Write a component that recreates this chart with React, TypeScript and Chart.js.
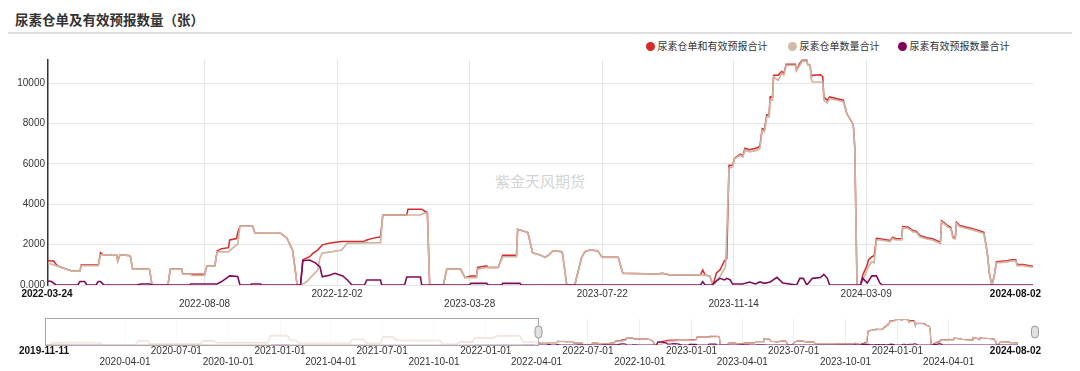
import React, { useEffect, useRef } from "react";
import { Chart, registerables } from "chart.js";

Chart.register(...registerables);

// ---------- data ----------
const MAIN_START = "2022-03-24";
const MAIN_END = "2024-08-02";
const NAV_START = "2019-11-11";

const TITLE = "尿素仓单及有效预报数量（张）";
const WATERMARK = "紫金天风期货";
const SERIES_NAMES = ["尿素仓单和有效预报合计", "尿素仓单数量合计", "尿素有效预报数量合计"];

const MAIN_TICK_DATES = ["2022-08-08", "2022-12-02", "2023-03-28", "2023-07-22", "2023-11-14", "2024-03-09"];
const NAV_TICK_DATES = [
  "2020-04-01", "2020-07-01", "2020-10-01", "2021-01-01", "2021-04-01", "2021-07-01",
  "2021-10-01", "2022-01-01", "2022-04-01", "2022-07-01", "2022-10-01", "2023-01-01",
  "2023-04-01", "2023-07-01", "2023-10-01", "2024-01-01", "2024-04-01",
];
const Y_TICKS = [0, 2000, 4000, 6000, 8000, 10000];
const Y_MAX = 11150;

// [days since MAIN_START, value]
const TOTAL: number[][] = [
  [0,1200],[5,1190],[8,960],[13,840],[21,690],[28,690],[29,990],[44,990],[46,1600],[48,1500],[60,1500],[61,1190],[63,1500],[72,1450],[74,790],[88,790],[89,740],[91,0],[105,0],[107,790],[117,790],[118,540],[124,540],[126,530],[137,530],[139,940],[146,940],[148,1690],[152,1800],[158,1850],[159,2230],[165,2300],[166,2590],[168,2920],[179,2920],[181,2590],[203,2590],[209,2330],[214,1730],[216,900],[218,0],[221,0],[223,1250],[229,1400],[232,1580],[236,1730],[240,1990],[247,2080],[257,2150],[276,2150],[279,2230],[284,2310],[291,2390],[293,3470],[314,3470],[315,3760],[327,3760],[332,3580],[334,0],[346,0],[349,790],[361,790],[365,360],[370,440],[375,440],[376,870],[384,950],[385,870],[394,870],[398,1480],[410,1480],[411,2760],[420,2600],[424,1600],[431,1480],[435,1370],[438,1480],[442,1700],[450,1650],[454,0],[461,0],[467,1370],[470,1650],[474,1730],[481,1700],[485,1370],[499,1370],[503,580],[533,540],[538,580],[544,500],[571,500],[573,740],[575,500],[579,450],[582,0],[585,600],[588,740],[592,1200],[594,1300],[596,5940],[599,5940],[601,6300],[606,6480],[608,6390],[610,6780],[614,6700],[621,6800],[623,6900],[625,7750],[627,7700],[629,8430],[631,8450],[632,9320],[634,9300],[635,10400],[639,10400],[642,10580],[644,10500],[646,10940],[654,10940],[655,10640],[658,11000],[660,11140],[664,11140],[665,10890],[667,10890],[668,10310],[669,10390],[676,10420],[678,10330],[679,9300],[682,9160],[684,9320],[696,9160],[699,8500],[704,8020],[705,7760],[706,6850],[708,0],[711,0],[713,500],[717,1000],[718,1240],[721,1400],[723,1450],[725,2310],[728,2290],[737,2210],[739,2370],[742,2290],[747,2290],[748,2900],[753,2860],[757,2700],[760,2660],[763,2450],[769,2340],[774,2290],[781,2120],[782,3190],[785,3060],[787,2950],[790,2860],[792,2370],[794,2340],[795,3110],[798,2950],[804,2860],[810,2780],[817,2650],[819,2610],[822,1600],[824,500],[826,0],[828,420],[830,1150],[839,1200],[844,1250],[847,1250],[848,1010],[853,1010],[862,930],
];

const RECEIPTS: number[][] = [
  [0,1090],[13,840],[21,690],[28,690],[29,955],[44,955],[46,1500],[60,1500],[61,1190],[63,1500],[72,1450],[74,790],[88,790],[89,740],[91,0],[105,0],[107,790],[117,790],[118,540],[124,540],[126,480],[137,480],[139,940],[146,940],[148,1640],[158,1640],[159,1700],[165,1980],[166,2000],[168,2920],[179,2920],[181,2590],[203,2590],[209,2330],[214,1730],[216,900],[218,0],[221,0],[226,150],[232,500],[236,740],[238,1340],[240,1580],[249,1650],[257,1730],[262,2080],[291,2100],[293,3470],[326,3470],[329,3560],[332,3560],[334,0],[346,0],[349,790],[361,790],[365,360],[375,360],[376,790],[384,870],[394,870],[398,1400],[410,1400],[411,2760],[420,2600],[424,1600],[431,1480],[435,1370],[438,1480],[442,1700],[450,1650],[454,0],[461,0],[467,1370],[470,1650],[474,1730],[481,1700],[485,1370],[499,1370],[503,580],[533,540],[538,580],[544,500],[571,500],[573,500],[579,450],[582,0],[588,410],[593,910],[596,5780],[599,5860],[601,6270],[606,6430],[608,6340],[610,6680],[614,6600],[621,6680],[623,6770],[625,7670],[627,7600],[629,8330],[631,8330],[632,9160],[634,9160],[635,10310],[639,10150],[642,10480],[644,10400],[646,10890],[654,10890],[655,10640],[658,10890],[660,11090],[664,11090],[665,10890],[667,10890],[668,10230],[669,10060],[678,10060],[679,9160],[682,9020],[684,9240],[696,9080],[699,8500],[704,8020],[705,7760],[706,6850],[708,0],[711,0],[713,250],[718,910],[721,1150],[723,1100],[725,2230],[728,2230],[737,2150],[739,2310],[742,2230],[747,2230],[748,2840],[753,2800],[757,2640],[760,2600],[763,2390],[769,2280],[774,2230],[781,2060],[782,3130],[785,3000],[787,2890],[790,2800],[792,2310],[794,2280],[795,3050],[798,2890],[804,2800],[810,2720],[817,2590],[819,2550],[822,1570],[824,500],[826,0],[828,400],[830,1100],[839,1150],[844,1200],[847,1200],[848,960],[853,960],[862,880],
];

const FORECAST: number[][] = [
  [0,200],[3,170],[7,0],[26,0],[28,170],[32,170],[34,0],[42,0],[44,170],[46,170],[49,0],[78,0],[81,50],[89,50],[91,0],[124,0],[125,50],[148,50],[152,170],[159,450],[166,420],[168,0],[177,0],[178,50],[186,50],[187,0],[221,0],[223,1200],[229,1240],[234,1100],[238,900],[240,410],[247,500],[251,580],[258,450],[262,250],[266,0],[277,0],[279,250],[291,250],[292,0],[312,0],[314,400],[326,400],[327,0],[369,0],[370,80],[384,80],[385,0],[397,0],[398,80],[413,80],[414,0],[571,0],[573,170],[575,0],[581,0],[585,200],[588,330],[592,250],[594,330],[597,250],[599,50],[608,50],[614,150],[619,50],[623,150],[627,80],[632,150],[638,380],[643,100],[655,0],[658,330],[661,330],[664,0],[669,330],[676,370],[679,530],[682,330],[684,0],[711,0],[713,330],[717,100],[721,450],[725,450],[728,100],[730,0],[862,0],
];

// navigator history before MAIN_START: [days since NAV_START, value]
const HIST_TOTAL: number[][] = [
  [0,0],[10,0],[14,900],[40,1100],[95,1050],[103,0],[160,0],[165,1700],[183,1700],[186,400],[275,400],[280,1800],[298,1800],[305,1000],[395,1000],[400,4000],[430,4100],[434,2100],[445,2000],[452,700],[541,700],[545,2400],[564,2400],[570,700],[595,700],[599,3400],[617,3400],[624,2000],[700,2000],[706,300],[730,300],[736,1300],[759,1300],[762,3000],[794,3000],[801,3800],[842,3800],[850,1100],[863,1200],
];
const HIST_RECEIPTS: number[][] = [
  [0,0],[10,0],[14,850],[40,1050],[95,1000],[103,0],[160,0],[165,1600],[183,1600],[186,400],[275,400],[280,1700],[298,1700],[305,950],[395,950],[400,3900],[430,4000],[434,2000],[445,1900],[452,650],[541,650],[545,2300],[564,2300],[570,650],[595,650],[599,3300],[617,3300],[624,1900],[700,1900],[706,250],[730,250],[736,1250],[759,1250],[762,2900],[794,2900],[801,3700],[842,3700],[850,1050],[863,1090],
];
const HIST_FORECAST: number[][] = [
  [0,0],[14,50],[95,50],[103,0],[400,0],[405,150],[430,150],[434,0],[760,0],[765,100],[842,100],[850,200],[863,200],
];

// ---------- styles ----------
const COLORS = ["#d62a2e", "#cfb4a1", "#7e0c5a"];
const LEGEND_COLORS = ["#d42a2a", "#cdbca8", "#7e0052"];
const LABEL_FONT = '10px "Liberation Sans", Arial, sans-serif';
const BOLD_FONT = 'bold 10px "Liberation Sans", Arial, sans-serif';
const END_LABEL_RIGHT = 1041;

const DAY = 86400000;
const dayDiff = (a: string, b: string) => Math.round((Date.parse(b) - Date.parse(a)) / DAY);
const pts = (arr: number[][], off = 0) => arr.map(([d, v]) => ({ x: d + off, y: v }));

function makeLabelPlugin(id: string, start: string, ticks: string[], first: string, last: string, r1: number, r2: number) {
  return {
    id,
    afterDraw(chart: any) {
      const { ctx, chartArea, scales } = chart;
      const x = scales.x;
      const y1 = chartArea.bottom + r1;
      const y2 = chartArea.bottom + r2;
      ctx.save();
      ctx.textBaseline = "middle";
      ctx.font = LABEL_FONT;
      ctx.fillStyle = "#333";
      ctx.textAlign = "center";
      ticks.forEach((d, i) => {
        ctx.fillText(d, x.getPixelForValue(dayDiff(start, d)), i % 2 === 1 ? y1 : y2);
      });
      ctx.font = BOLD_FONT;
      ctx.fillStyle = "#111";
      ctx.fillText(first, chartArea.left - 1, y1);
      ctx.textAlign = "right";
      ctx.fillText(last, END_LABEL_RIGHT, y1);
      ctx.restore();
    },
  };
}

function drawHandle(ctx: CanvasRenderingContext2D, cx: number, cy: number) {
  const w = 7, h = 12, r = 3.5;
  ctx.beginPath();
  ctx.roundRect(cx - w / 2, cy - h / 2, w, h, r);
  ctx.fillStyle = "#e0e0e0";
  ctx.fill();
  ctx.strokeStyle = "#999";
  ctx.lineWidth = 1;
  ctx.stroke();
}

function mainConfig(): any {
  const span = dayDiff(MAIN_START, MAIN_END);
  return {
    type: "line",
    data: {
      datasets: [
        { label: SERIES_NAMES[2], data: pts(FORECAST), borderColor: COLORS[2], borderWidth: 1.6, order: 1, clip: { left: 0, right: 0, top: 2, bottom: 0 } },
        { label: SERIES_NAMES[1], data: pts(RECEIPTS), borderColor: COLORS[1], borderWidth: 1.7, order: 2, clip: { left: 0, right: 0, top: 2, bottom: 0 } },
        { label: SERIES_NAMES[0], data: pts(TOTAL), borderColor: COLORS[0], borderWidth: 1.5, order: 3, clip: { left: 0, right: 0, top: 2, bottom: 0 } },
      ],
    },
    options: {
      responsive: false,
      animation: false,
      events: [],
      layout: { padding: { left: 0, right: 47, top: 60, bottom: 86 } },
      elements: { point: { radius: 0 }, line: { tension: 0, fill: false } },
      plugins: { legend: { display: false }, tooltip: { enabled: false } },
      scales: {
        x: {
          type: "linear",
          min: 0,
          max: span,
          ticks: { display: false },
          grid: { color: "#e6e6e6", drawTicks: false },
          border: { display: false },
          afterBuildTicks: (s: any) => {
            s.ticks = MAIN_TICK_DATES.map((d) => ({ value: dayDiff(MAIN_START, d) }));
          },
          afterFit: (s: any) => {
            s.height = 0;
          },
        },
        y: {
          min: 0,
          max: Y_MAX,
          ticks: {
            font: { size: 10, family: '"Liberation Sans", Arial, sans-serif' },
            color: "#333",
            padding: 3,
            callback: (v: number) => (v === 0 ? "0.000" : String(v)),
          },
          grid: { color: "#e6e6e6", drawTicks: false },
          border: { display: true, color: "#333", width: 1.5 },
          afterBuildTicks: (s: any) => {
            s.ticks = Y_TICKS.map((v) => ({ value: v }));
          },
          afterFit: (s: any) => {
            s.width = 48;
          },
        },
      },
    },
    plugins: [makeLabelPlugin("mainLabels", MAIN_START, MAIN_TICK_DATES, MAIN_START, MAIN_END, 9, 19)],
  };
}

function navConfig(): any {
  const off = dayDiff(NAV_START, MAIN_START);
  const span = dayDiff(NAV_START, MAIN_END);
  const overlay = {
    id: "navOverlay",
    afterDatasetsDraw(chart: any) {
      const { ctx, chartArea, scales } = chart;
      const { left, top, bottom, right } = chartArea;
      const selX = Math.round(scales.x.getPixelForValue(off)) + 6.5;
      ctx.save();
      ctx.fillStyle = "rgba(255,255,255,0.72)";
      ctx.fillRect(left, top - 1, selX - left, bottom - top + 2);
      ctx.strokeStyle = "#a8a8a8";
      ctx.lineWidth = 1;
      ctx.strokeRect(Math.round(left) + 0.5, Math.round(top) - 0.5, selX - Math.round(left) - 0.5, Math.round(bottom - top) + 1);
      const cy = (top + bottom) / 2;
      drawHandle(ctx, selX, cy);
      drawHandle(ctx, right + 17, cy);
      ctx.restore();
    },
  };
  return {
    type: "line",
    data: {
      datasets: [
        { label: SERIES_NAMES[2], data: [...pts(HIST_FORECAST), ...pts(FORECAST, off)], borderColor: COLORS[2], borderWidth: 1.2, order: 1 },
        { label: SERIES_NAMES[1], data: [...pts(HIST_RECEIPTS), ...pts(RECEIPTS, off)], borderColor: COLORS[1], borderWidth: 1.3, order: 2 },
        { label: SERIES_NAMES[0], data: [...pts(HIST_TOTAL), ...pts(TOTAL, off)], borderColor: COLORS[0], borderWidth: 1.2, order: 3 },
      ],
    },
    options: {
      responsive: false,
      animation: false,
      events: [],
      layout: { padding: { left: 45, right: 62, top: 319, bottom: 26 } },
      elements: { point: { radius: 0 }, line: { tension: 0, fill: false } },
      plugins: { legend: { display: false }, tooltip: { enabled: false } },
      scales: {
        x: {
          type: "linear",
          min: 0,
          max: span,
          ticks: { display: false },
          grid: { color: "#eeeeee", drawTicks: false },
          border: { display: false },
          afterBuildTicks: (s: any) => {
            s.ticks = NAV_TICK_DATES.map((d) => ({ value: dayDiff(NAV_START, d) }));
          },
          afterFit: (s: any) => {
            s.height = 0;
          },
        },
        y: { display: false, min: 0, max: Y_MAX },
      },
    },
    plugins: [overlay, makeLabelPlugin("navLabels", NAV_START, NAV_TICK_DATES, NAV_START, MAIN_END, 6, 17)],
  };
}

const LEGEND_LEFT = [645.5, 787.5, 897.5];

export default function App() {
  const mainRef = useRef<HTMLCanvasElement>(null);
  const navRef = useRef<HTMLCanvasElement>(null);

  useEffect(() => {
    const main = new Chart(mainRef.current as HTMLCanvasElement, mainConfig());
    const nav = new Chart(navRef.current as HTMLCanvasElement, navConfig());
    return () => {
      main.destroy();
      nav.destroy();
    };
  }, []);

  return (
    <div
      style={{
        position: "fixed",
        left: 0,
        top: 0,
        width: 1080,
        height: 371,
        background: "#fff",
        overflow: "hidden",
        fontFamily: '"Noto Sans CJK SC", "Noto Sans", sans-serif',
      }}
    >
      <div style={{ position: "absolute", left: 15, top: 9, fontSize: 13.5, fontWeight: 700, color: "#333", lineHeight: "20px", whiteSpace: "nowrap" }}>
        {TITLE}
      </div>
      <div style={{ position: "absolute", left: 8, top: 32, width: 1064, height: 2, background: "#dddddd" }} />
      {SERIES_NAMES.map((name, i) => (
        <div
          key={name}
          style={{ position: "absolute", left: LEGEND_LEFT[i], top: 39, height: 14, display: "flex", alignItems: "center", whiteSpace: "nowrap" }}
        >
          <span style={{ display: "inline-block", width: 9, height: 9, borderRadius: "50%", background: LEGEND_COLORS[i], marginRight: 3 }} />
          <span style={{ fontSize: 10, color: "#333", lineHeight: "14px" }}>{name}</span>
        </div>
      ))}
      <div style={{ position: "absolute", left: 0, top: 171, width: 1080, textAlign: "center", fontSize: 15, color: "#d4d4d4", lineHeight: "20px" }}>
        {WATERMARK}
      </div>
      <canvas ref={mainRef} width={1080} height={371} style={{ position: "absolute", left: 0, top: 0 }} />
      <canvas ref={navRef} width={1080} height={371} style={{ position: "absolute", left: 0, top: 0 }} />
    </div>
  );
}
